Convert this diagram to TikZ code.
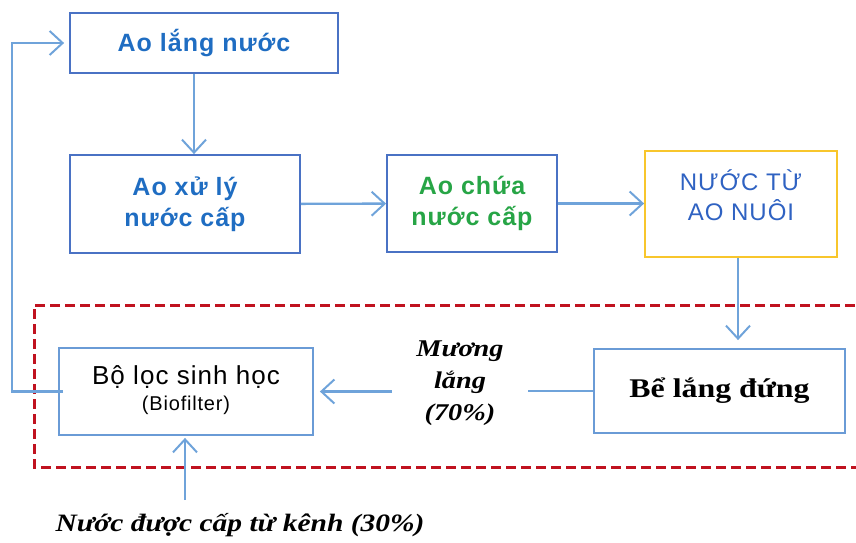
\documentclass[tikz,border=0pt]{standalone}
\usepackage{fontspec}
\setmainfont{Liberation Serif}
\setsansfont{Liberation Sans}
\newfontfamily\widesans[LetterSpace=4]{Liberation Sans}
\newfontfamily\wideserif[FakeStretch=1.18]{Liberation Serif}
\usetikzlibrary{arrows.meta}
\definecolor{boxblue}{HTML}{4A72C4}
\definecolor{lightbox}{HTML}{6A9BD6}
\definecolor{textblue}{HTML}{1F6DC2}
\definecolor{nuoiblue}{HTML}{2F62C2}
\definecolor{textgreen}{HTML}{27A546}
\definecolor{boxyellow}{HTML}{F8C62C}
\definecolor{flowblue}{HTML}{6FA3DA}
\definecolor{zonered}{HTML}{C0121F}
\tikzset{
  bluebox/.style={draw=boxblue, line width=1.8pt, rectangle, align=center,
    font=\widesans\bfseries\fontsize{25}{31}\selectfont, text=textblue},
  litebox/.style={draw=lightbox, line width=1.8pt, rectangle, align=center},
  flow/.style={draw=flowblue, line width=2.4pt,
    -{Straight Barb[length=13pt,width=24pt,line width=2pt]}},
  flowline/.style={draw=flowblue, line width=2.4pt},
  seriflabel/.style={font=\wideserif\bfseries\itshape\fontsize{24}{32}\selectfont, align=center}
}
\begin{document}
\begin{tikzpicture}[x=1pt,y=-1pt]
\useasboundingbox (0,0) rectangle (856,542);

% treatment zone
\draw[zonered, line width=3pt, dash pattern=on 10pt off 5pt] (870,305) -- (34,305) -- (34,467) -- (870,467);

% upper chain
\node[bluebox, minimum width=268pt, minimum height=60pt] (lang) at (204,43) {Ao lắng nước};
\node[bluebox, minimum width=230pt, minimum height=98pt] (xuly) at (185,204) {Ao xử lý\\nước cấp};
\node[bluebox, minimum width=170pt, minimum height=97pt, text=textgreen] (chua) at (472,203.5) {Ao chứa\\nước cấp};
\node[draw=boxyellow, line width=1.8pt, rectangle, minimum width=192pt, minimum height=106pt] (nuoi) at (741,204) {};
\node[font=\widesans\fontsize{24}{30}\selectfont, text=nuoiblue, align=center, anchor=north] (nuoitxt) at ([yshift=-16pt]nuoi.north) {NƯỚC TỪ\\AO NUÔI};

% lower chain
\node[litebox, minimum width=254pt, minimum height=87pt] (loc) at (186,391.5) {};
\node[font=\widesans\fontsize{26}{29}\selectfont, align=center] (loctxt) at (186,390) {Bộ lọc sinh học\\[-3pt]{\fontsize{20}{22}\selectfont(Biofilter)}};
\node[litebox, minimum width=251pt, minimum height=84pt,
  font=\wideserif\bfseries\fontsize{27}{30}\selectfont] (be) at (719.5,391) {Bể lắng đứng};
\node[seriflabel, inner xsep=24pt] (muong) at (460,383) {Mương\\lắng\\(70\%)};

\coordinate (canal) at (185,500);
\node[seriflabel, font=\wideserif\bfseries\itshape\fontsize{25}{32}\selectfont] (canaltxt) at (240,525) {Nước được cấp từ kênh (30\%)};

% connectors
\draw[flow] ([xshift=-10pt]lang.south) -- ([xshift=-10pt]lang.south |- xuly.north);
\draw[flow] (xuly) -- (chua);
\draw[flow] (chua.east) -- (nuoi.west |- chua.east);
\draw[flow, shorten >=8pt] ([xshift=-3pt]nuoi.south) -- ([xshift=-3pt]nuoi.south |- be.north);
\draw[flowline] (be.west) -- (be.west -| muong.east);
\draw[flow, shorten >=6pt] (muong.west |- loc.east) -- (loc.east);
\draw[flow, shorten >=2pt] (canal) -- (canal |- loc.south);
\draw[flow, shorten >=5pt] ([xshift=5pt]loc.west) -- ++(-51pt,0) |- (lang.west);
\end{tikzpicture}
\end{document}
